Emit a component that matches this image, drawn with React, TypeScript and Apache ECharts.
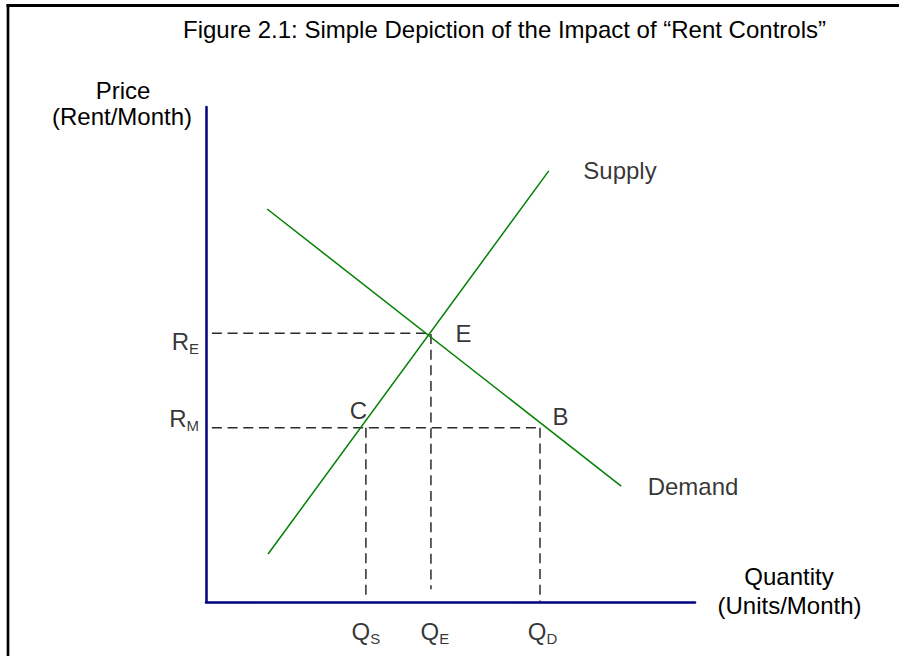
import React, { useEffect, useRef } from 'react';
import * as echarts from 'echarts';

// ---------- data ----------
const axisMin = 0;
const axisMax = 100;
const supplyCurve: [number, number][] = [[12.7, 9.7], [70.1, 87.1]];
const demandCurve: [number, number][] = [[12.5, 79.4], [84.9, 23.4]];
const equilibriumRent = 54.3;
const controlledRent = 35.2;
const quantitySupplied = 32.7;
const equilibriumQuantity = 46;
const quantityDemanded = 68.3;
const curveNames = ['Supply', 'Demand'];
const rentTickSubs = ['E', 'M'];
const rentTickValues = [equilibriumRent, controlledRent];
const quantityTickSubs = ['S', 'E', 'D'];
const quantityTickValues = [quantitySupplied, equilibriumQuantity, quantityDemanded];
const pointNames = ['E', 'C', 'B'];
const pointValues: [number, number][] = [
  [equilibriumQuantity, equilibriumRent],
  [quantitySupplied, controlledRent],
  [quantityDemanded, controlledRent],
];
const dashedGuides: [number, number][][] = [
  [[1.2, equilibriumRent], [equilibriumQuantity, equilibriumRent], [equilibriumQuantity, 2.6]],
  [[1.2, controlledRent], [quantityDemanded, controlledRent]],
  [[quantitySupplied, controlledRent], [quantitySupplied, 1.4]],
  [[quantityDemanded, controlledRent], [quantityDemanded, 0]],
];
const titleText = 'Figure 2.1: Simple Depiction of the Impact of \u201CRent Controls\u201D';
const yAxisName = ['Price', '(Rent/Month)'];
const xAxisName = ['Quantity', '(Units/Month)'];

// ---------- styles ----------
const FONT = '"Liberation Sans", Arial, Helvetica, sans-serif';
const GREEN = '#008000';
const NAVY = '#000080';
const DASH = '#2b2b2b';
const FS = 24;
const SUB = 15;
const pointLabelOffsets = [[32.5, 0.5], [-7.5, -17], [20.5, -11.5]];
const rentTickOffsets = [[0, 8], [0, -9.5]];
const quantityTickOffsets = [[0, 29], [4, 29], [2.5, 29]];
const curveLabelDistances = [34, 26];

const richSub = {
  r: { fontSize: FS, fontFamily: FONT, color: '#000' },
  s: { fontSize: SUB, fontFamily: FONT, color: '#000', padding: [14, 0, 0, 0] },
};

function buildOption() {
  const axisCommon = {
    type: 'value' as const,
    min: axisMin,
    max: axisMax,
    axisLine: { show: true, onZero: false, lineStyle: { color: NAVY, width: 2.5 } },
    axisTick: { show: false },
    axisLabel: { show: false },
    splitLine: { show: false },
  };
  const hiddenScatter = {
    type: 'scatter' as const,
    symbolSize: 1,
    itemStyle: { color: 'rgba(0,0,0,0)' },
    silent: true,
    z: 5,
  };
  const series: any[] = [];
  dashedGuides.forEach((g) => {
    series.push({
      type: 'line',
      data: g,
      showSymbol: false,
      silent: true,
      z: 2,
      lineStyle: { color: DASH, width: 1.5, type: [10, 5.7] },
    });
  });
  [supplyCurve, demandCurve].forEach((c) => {
    series.push({
      type: 'line',
      data: c,
      showSymbol: false,
      silent: true,
      z: 3,
      lineStyle: { color: GREEN, width: 1.5 },
    });
  });
  // curve name labels at upper/right ends
  series.push({
    ...hiddenScatter,
    data: [supplyCurve[1], demandCurve[1]].map((v, i) => ({
      value: v,
      label: {
        show: true,
        position: 'right',
        distance: curveLabelDistances[i],
        formatter: curveNames[i],
        fontSize: FS,
        fontFamily: FONT,
        color: '#000',
      },
    })),
  });
  // point labels
  series.push({
    ...hiddenScatter,
    data: pointValues.map((v, i) => ({
      value: v,
      label: {
        show: true,
        position: 'inside',
        offset: pointLabelOffsets[i],
        formatter: pointNames[i],
        fontSize: FS,
        fontFamily: FONT,
        color: '#000',
      },
    })),
  });
  // rent tick labels
  series.push({
    ...hiddenScatter,
    data: rentTickValues.map((v, i) => ({
      value: [axisMin, v],
      label: {
        show: true,
        position: 'left',
        distance: 6.5,
        offset: rentTickOffsets[i],
        formatter: `{r|R}{s|${rentTickSubs[i]}}`,
        rich: richSub,
      },
    })),
  });
  // quantity tick labels
  series.push({
    ...hiddenScatter,
    data: quantityTickValues.map((v, i) => ({
      value: [v, axisMin],
      label: {
        show: true,
        position: 'inside',
        offset: quantityTickOffsets[i],
        formatter: `{r|Q}{s|${quantityTickSubs[i]}}`,
        rich: richSub,
      },
    })),
  });

  const txt = (text: string, x: number, y: number) => ({
    type: 'text',
    x,
    y,
    silent: true,
    style: {
      text,
      fontSize: FS,
      fontFamily: FONT,
      fill: '#000',
      align: 'center',
      verticalAlign: 'middle',
    },
  });

  return {
    animation: false,
    backgroundColor: '#ffffff',
    grid: { left: 206, top: 107, width: 489, height: 495 },
    xAxis: axisCommon,
    yAxis: axisCommon,
    tooltip: { show: false },
    series,
    graphic: [
      { type: 'line', silent: true, shape: { x1: 6.5, y1: 5.5, x2: 899, y2: 5.5 }, style: { stroke: '#000', lineWidth: 3 } },
      { type: 'line', silent: true, shape: { x1: 8, y1: 4, x2: 8, y2: 656 }, style: { stroke: '#000', lineWidth: 2.7 } },
      txt(titleText, 504.5, 29),
      txt(yAxisName[0], 123, 90.5),
      txt(yAxisName[1], 122, 116.5),
      txt(xAxisName[0], 789, 576.5),
      txt(xAxisName[1], 789.5, 605),
    ],
  };
}

export default function App() {
  const ref = useRef<HTMLDivElement>(null);
  useEffect(() => {
    if (!ref.current) return;
    const chart = echarts.init(ref.current, undefined, { renderer: 'svg' });
    chart.setOption(buildOption() as any);
    return () => chart.dispose();
  }, []);
  return (
    <div
      ref={ref}
      style={{ position: 'absolute', left: 0, top: 0, width: 899, height: 656, background: '#fff' }}
    />
  );
}
